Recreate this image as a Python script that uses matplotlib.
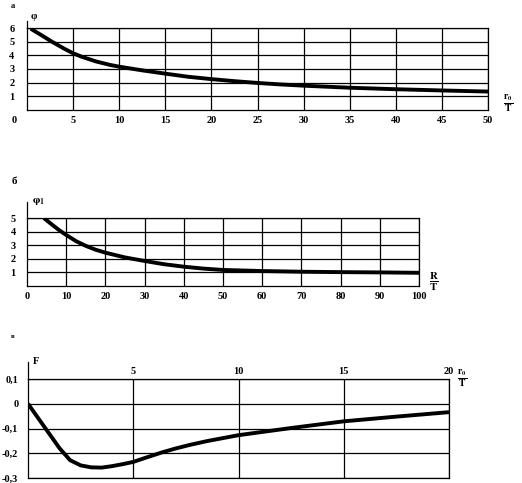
import matplotlib
matplotlib.use("Agg")
import matplotlib.pyplot as plt
import matplotlib.transforms as mtransforms

# ---- data ----
a_x = [0.4, 1.5, 2.7, 4, 5, 6, 7.5, 9, 10, 12.5, 15, 17.5, 20, 22.5, 25, 27.5, 30, 35, 40, 45, 50]
a_y = [5.95, 5.5, 5.0, 4.5, 4.15, 3.88, 3.55, 3.3, 3.17, 2.9, 2.66, 2.43, 2.26, 2.11, 1.98, 1.87, 1.78, 1.63, 1.52, 1.43, 1.35]
a_xticks = [0, 5, 10, 15, 20, 25, 30, 35, 40, 45, 50]
a_yticks = [1, 2, 3, 4, 5, 6]

b_x = [4.3, 6, 8, 10, 12.5, 15, 17.5, 20, 25, 30, 35, 40, 45, 50, 60, 70, 80, 90, 100]
b_y = [5.0, 4.6, 4.15, 3.75, 3.3, 2.95, 2.67, 2.45, 2.1, 1.84, 1.6, 1.42, 1.28, 1.18, 1.1, 1.05, 1.02, 1.0, 0.97]
b_xticks = [0, 10, 20, 30, 40, 50, 60, 70, 80, 90, 100]
b_yticks = [1, 2, 3, 4, 5]

c_x = [0, 0.5, 1.0, 1.5, 2.0, 2.5, 3.0, 3.5, 4.0, 4.5, 5, 5.7, 6.35, 7, 7.7, 8.5, 10, 12.5, 15, 17.5, 20]
c_y = [0, -0.06, -0.12, -0.18, -0.228, -0.249, -0.257, -0.258, -0.252, -0.244, -0.235, -0.215, -0.197, -0.181, -0.166, -0.151, -0.127, -0.098, -0.071, -0.052, -0.034]
c_xticks = [5, 10, 15, 20]
c_yticks = [0.1, 0, -0.1, -0.2, -0.3]
c_ylabels = ["0,1", "0", "-0,1", "-0,2", "-0,3"]

plt.rcParams['font.family'] = ['Liberation Serif', 'DejaVu Serif']
plt.rcParams['font.weight'] = 'bold'
plt.rcParams['mathtext.fontset'] = 'stix'
FS = 7.5

W, H = 522, 483
fig = plt.figure(figsize=(W / 100, H / 100), dpi=100)

def rect(l, r, t, b):
    return [l / W, 1 - b / H, (r - l) / W, (b - t) / H]

def style(ax):
    for s in ax.spines.values():
        s.set_linewidth(0.9)
        s.set_color('black')
    ax.tick_params(length=0, labelsize=FS)
    for lab in ax.get_xticklabels() + ax.get_yticklabels():
        lab.set_fontweight('bold')

lw_curve = 2.8
lw_grid = 0.9

# ---- panel a ----
ax1 = fig.add_axes(rect(27, 488, 28, 110))
ax1.plot(a_x, a_y, color='black', lw=lw_curve, solid_capstyle='butt', solid_joinstyle='round')
ax1.set_xlim(0, 50)
ax1.set_ylim(0, 6)
ax1.set_xticks(a_xticks)
ax1.set_yticks(a_yticks)
for v in a_xticks[1:]:
    ax1.axvline(v, color='black', lw=lw_grid)
for v in a_yticks:
    ax1.axhline(v, color='black', lw=lw_grid)
ax1.tick_params(axis='y', pad=9)
ax1.tick_params(axis='x', pad=4)
style(ax1)
ax1.plot([0, 0], [1, 1.08], transform=ax1.transAxes, color='black', lw=0.9, clip_on=False)
lab0 = ax1.get_xticklabels()[0]
lab0.set_transform(lab0.get_transform() + mtransforms.ScaledTranslation(-0.13, 0, fig.dpi_scale_trans))
ax1.text(0.008, 1.09, 'φ', transform=ax1.transAxes, fontsize=7.5, fontweight='bold', va='bottom', ha='left')
ax1.text(1.043, 0.09, r'$\mathbf{\frac{r_0}{T}}$', transform=ax1.transAxes, fontsize=10, ha='center', va='center')
fig.text(13 / W, 1 - 6 / H, 'а', fontsize=6, fontweight='bold', ha='center', va='center')

# ---- panel б ----
ax2 = fig.add_axes(rect(27, 419, 218, 286))
ax2.plot(b_x, b_y, color='black', lw=lw_curve, solid_capstyle='butt', solid_joinstyle='round')
ax2.set_xlim(0, 100)
ax2.set_ylim(0, 5)
ax2.set_xticks(b_xticks)
ax2.set_yticks(b_yticks)
for v in b_xticks[1:]:
    ax2.axvline(v, color='black', lw=lw_grid)
for v in b_yticks:
    ax2.axhline(v, color='black', lw=lw_grid)
ax2.tick_params(axis='y', pad=8)
ax2.tick_params(axis='x', pad=4)
style(ax2)
ax2.plot([0, 0], [1, 1.24], transform=ax2.transAxes, color='black', lw=0.9, clip_on=False)
ax2.text(0.012, 1.16, r'$\mathbf{\varphi_1}$', transform=ax2.transAxes, fontsize=8, va='bottom', ha='left')
ax2.text(1.038, 0.06, r'$\mathbf{\frac{R}{T}}$', transform=ax2.transAxes, fontsize=11, ha='center', va='center')
fig.text(14 / W, 1 - 181 / H, 'б', fontsize=8, fontweight='bold', ha='center', va='center')

# ---- panel в ----
ax3 = fig.add_axes(rect(28, 449, 379, 478))
ax3.plot(c_x, c_y, color='black', lw=lw_curve, solid_capstyle='butt', solid_joinstyle='round')
ax3.set_xlim(0, 20)
ax3.set_ylim(-0.3, 0.1)
ax3.xaxis.tick_top()
ax3.set_xticks(c_xticks)
ax3.set_yticks(c_yticks)
ax3.set_yticklabels(c_ylabels)
for v in c_xticks:
    ax3.axvline(v, color='black', lw=lw_grid)
for v in c_yticks:
    ax3.axhline(v, color='black', lw=lw_grid)
ax3.tick_params(axis='y', pad=7)
ax3.tick_params(axis='x', pad=2)
style(ax3)
ax3.plot([0, 0], [1, 1.17], transform=ax3.transAxes, color='black', lw=0.9, clip_on=False)
ax3.text(0.012, 1.13, 'F', transform=ax3.transAxes, fontsize=7.5, fontweight='bold', va='bottom', ha='left')
ax3.text(1.031, 1.01, r'$\mathbf{\frac{r_0}{T}}$', transform=ax3.transAxes, fontsize=10, ha='center', va='center')
fig.text(13 / W, 1 - 337 / H, 'в', fontsize=5, fontweight='bold', ha='center', va='center')

fig.savefig('out.png', dpi=100)
